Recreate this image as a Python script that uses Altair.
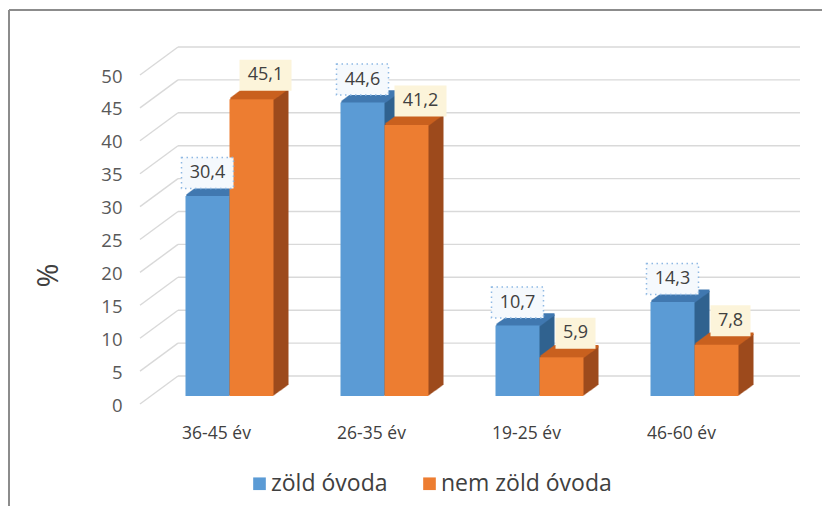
import altair as alt
import pandas as pd

# ---- data ----
categories = ["36-45 év", "26-35 év", "19-25 év", "46-60 év"]
series_names = ["zöld óvoda", "nem zöld óvoda"]
zold = [30.4, 44.6, 10.7, 14.3]
nem_zold = [45.1, 41.2, 5.9, 7.8]
y_ticks = [0, 5, 10, 15, 20, 25, 30, 35, 40, 45, 50]

def fmt(v):
    return f"{v:.1f}".replace(".", ",")

df_blue = pd.DataFrame({"cat": categories, "series": series_names[0], "v": zold,
                        "label": [fmt(v) for v in zold]})
df_orange = pd.DataFrame({"cat": categories, "series": series_names[1], "v": nem_zold,
                          "label": [fmt(v) for v in nem_zold]})
df_ticks = pd.DataFrame({"v": y_ticks})
df_one = pd.DataFrame({"a": [0]})

# ---- style ----
FONT = "Open Sans"
BLUE, BLUE_TOP, BLUE_SIDE = "#5b9bd5", "#4178b0", "#31628f"
ORANGE, ORANGE_TOP, ORANGE_SIDE = "#ed7d31", "#c9601f", "#9d4a1c"
GRID = "#d9d9d9"
BAR_W = 44
DEPTH_STEPS = 15
DX, DY = 1.0, 11.0 / 15.0

x_enc = alt.X("cat:N", sort=categories,
              scale=alt.Scale(paddingInner=0.432, paddingOuter=0.216),
              axis=alt.Axis(title=None, domain=False, ticks=False, grid=False,
                            labelAngle=0, labelFont=FONT, labelFontSize=17.5,
                            labelColor="#404040", labelPadding=28, labelOffset=-13))
y_axis = alt.Axis(title="%", values=y_ticks, domain=False, ticks=False, grid=False,
                  labelFont=FONT, labelFontSize=18.5, labelColor="#595959",
                  labelPadding=30, labelOffset=9,
                  titleFont=FONT, titleFontSize=29, titleFontWeight="normal",
                  titleColor="#404040", titleAngle=270, titleX=-104, titleY=208,
                  titleAlign="center", titleBaseline="middle")
y_enc = alt.Y("v:Q", scale=alt.Scale(domain=[0, 50], nice=False, zero=True), axis=y_axis)

color_enc = alt.Color("series:N", sort=series_names,
                      scale=alt.Scale(domain=series_names, range=[BLUE, ORANGE]),
                      legend=alt.Legend(title=None, orient="none", legendX=96, legendY=405,
                                        direction="horizontal", symbolType="square",
                                        symbolSize=160, symbolStrokeWidth=0,
                                        labelFont=FONT, labelFontSize=23, labelLimit=400,
                                        labelColor="#404040", labelOffset=0,
                                        columnPadding=30))

layers = []

# frame
layers.append(alt.Chart(df_one).mark_rule(color="#8c8c8c", strokeWidth=2).encode(
    x=alt.value(-143), y=alt.value(-57), y2=alt.value(440)))
layers.append(alt.Chart(df_one).mark_rule(color="#8c8c8c", strokeWidth=2).encode(
    x=alt.value(-143), x2=alt.value(680), y=alt.value(-57)))

# back-wall gridlines and side-wall diagonals
layers.append(alt.Chart(df_ticks).mark_rule(color=GRID, strokeWidth=1.4,
                                            yOffset=-20, y2Offset=-20).encode(
    x=alt.value(26), x2=alt.value(648), y=y_enc, y2=alt.Y2("v:Q")))
layers.append(alt.Chart(df_ticks).mark_rule(color=GRID, strokeWidth=1.4,
                                            yOffset=8, y2Offset=-20).encode(
    x=alt.value(-12), x2=alt.value(26), y=y_enc, y2=alt.Y2("v:Q")))


def bar_layers(df, base_off, front, top, side):
    out = []
    for k in range(DEPTH_STEPS, 0, -1):
        out.append(alt.Chart(df).mark_bar(width=BAR_W, color=side,
                                          xOffset=base_off + k * DX,
                                          yOffset=-k * DY, y2Offset=-k * DY).encode(
            x=x_enc, y=y_enc, y2=alt.Y2(datum=0)))
    for k in range(DEPTH_STEPS, 0, -1):
        out.append(alt.Chart(df).mark_bar(width=BAR_W, color=top,
                                          xOffset=base_off + k * DX,
                                          yOffset=-k * DY - 1.3,
                                          y2Offset=-k * DY + 1.3).encode(
            x=x_enc, y=y_enc, y2=alt.Y2("v:Q")))
    out.append(alt.Chart(df).mark_bar(width=BAR_W, xOffset=base_off, opacity=1).encode(
        x=x_enc, y=y_enc, y2=alt.Y2(datum=0), color=color_enc))
    return out


layers += bar_layers(df_blue, -BAR_W / 2, BLUE, BLUE_TOP, BLUE_SIDE)
layers += bar_layers(df_orange, BAR_W / 2, ORANGE, ORANGE_TOP, ORANGE_SIDE)


def label_layers(df, off, yoff, fill, stroke, dash):
    out = []
    for cond, w in (("length(datum.label) > 3", 52), ("length(datum.label) <= 3", 40)):
        h = 31 / w
        shape = f"M-1,-{h:.4f}L1,-{h:.4f}L1,{h:.4f}L-1,{h:.4f}Z"
        kw = dict(shape=shape, size=w * w, filled=True, fill=fill, opacity=1,
                  xOffset=off, yOffset=yoff, strokeWidth=1.5)
        if stroke:
            kw.update(stroke=stroke, strokeDash=dash)
        else:
            kw.update(strokeWidth=0)
        out.append(alt.Chart(df).transform_filter(cond).mark_point(**kw).encode(
            x=x_enc, y=y_enc))
    out.append(alt.Chart(df).mark_text(font=FONT, fontSize=18, color="#404040",
                                       xOffset=off, yOffset=yoff, baseline="middle",
                                       align="center").encode(
        x=x_enc, y=y_enc, text="label:N"))
    return out


layers += label_layers(df_blue, -BAR_W / 2, -23, "#f5f9fd", "#8fb9e3", [1.5, 3.5])
layers += label_layers(df_orange, BAR_W / 2 + 14, -24, "#fcf4da", None, None)

chart = alt.layer(*layers).properties(
    width=620, height=329,
    autosize=alt.AutoSizeParams(type="none"),
    padding={"left": 144, "top": 59, "right": 50, "bottom": 110},
).configure(background="white").configure_view(stroke=None)

chart.save("out.html", embed_options={"renderer": "svg", "actions": False})
